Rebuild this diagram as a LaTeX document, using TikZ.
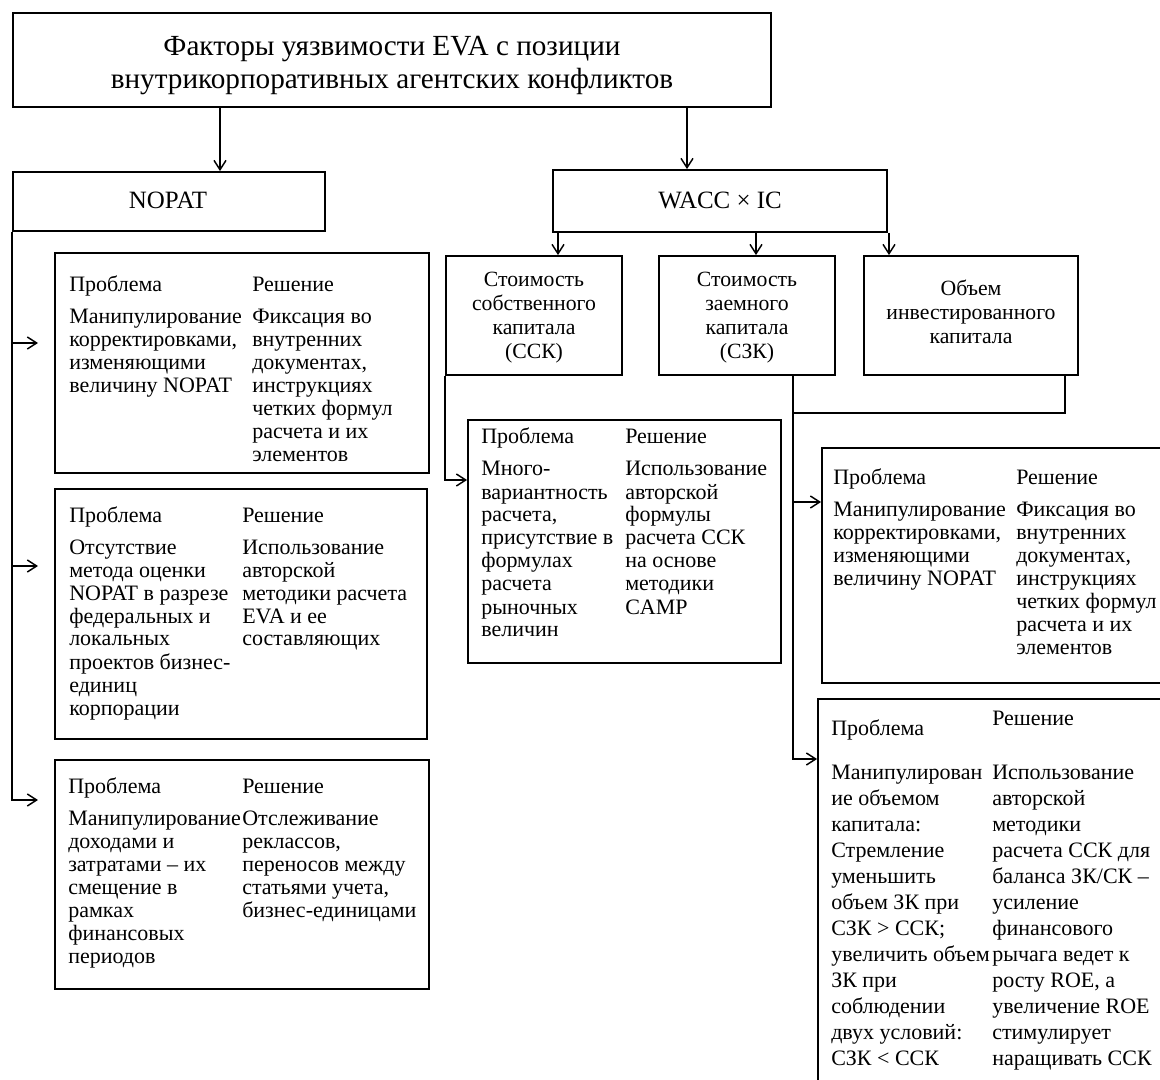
\documentclass[tikz,border=0pt]{standalone}
\usepackage{fontspec}
\setmainfont{Liberation Serif}
\usetikzlibrary{arrows.meta,shadows,fit}
\newcommand{\lcol}[1]{\begin{tabular}[t]{@{}l@{}}#1\end{tabular}}
\newcommand{\ccol}[1]{\begin{tabular}[t]{@{}c@{}}#1\end{tabular}}
\newcommand{\bodyf}{\fontsize{16.5}{17.25}\selectfont}
\newcommand{\widef}{\fontsize{16.5}{19.5}\selectfont}
\newcommand{\smallboxf}{\fontsize{16.3}{18}\selectfont}
\newcommand{\midf}{\fontsize{18.7}{20}\selectfont}
\newcommand{\titlef}{\fontsize{21.9}{24.75}\selectfont}
\begin{document}
\begin{tikzpicture}[x=0.75pt,y=-0.75pt,
  box/.style={draw, line width=1.4pt, fill=white, inner sep=0pt,
    drop shadow={shadow xshift=1.1pt, shadow yshift=-1.1pt, opacity=0.3}},
  conn/.style={line width=1.1pt},
  arr/.style={conn, -{Straight Barb[length=7pt,width=9pt]}},
  txt/.style={inner sep=0pt, anchor=base west, font=\bodyf},
  ctxt/.style={inner sep=0pt, anchor=base, font=\smallboxf},
]
\useasboundingbox (0,0) rectangle (1160,1080);
\clip (0,0) rectangle (1160,1080);
\fill[white] (0,0) rectangle (1160,1080);

% ---------- boxes ----------
\node[box, fit={(13,13)(771,107)}] (title) {};
\node[box, fit={(13,172)(325,231)}] (nopat) {};
\node[box, fit={(553,170)(887,232)}] (wacc) {};
\node[box, fit={(55,253)(429,473)}] (p1) {};
\node[box, fit={(55,489)(427,739)}] (p2) {};
\node[box, fit={(55,760)(429,989)}] (p3) {};
\node[box, fit={(446,256)(622,375)}] (ssk) {};
\node[box, fit={(659,256)(835,375)}] (szk) {};
\node[box, fit={(864,256)(1078,375)}] (ob) {};
\node[box, fit={(468,420)(781,663)}] (p4) {};
\node[box, fit={(822,448)(1185,683)}] (p5) {};
\node[box, fit={(818,699)(1185,1110)}] (p6) {};

% ---------- texts ----------
\node[inner sep=0pt, anchor=base, font=\titlef] (titletext) at (392,56)
  {\ccol{Факторы уязвимости EVA с позиции\\внутрикорпоративных агентских конфликтов}};
\node[inner sep=0pt, anchor=base, font=\midf] (nopattext) at (168,208.5) {NOPAT};
\node[inner sep=0pt, anchor=base, font=\midf] (wacctext) at (720,208.5) {WACC × IC};

\node[ctxt] (ssktext) at (534,287) {\ccol{Стоимость\\собственного\\капитала\\(ССК)}};
\node[ctxt] (szktext) at (747,287) {\ccol{Стоимость\\заемного\\капитала\\(СЗК)}};
\node[ctxt] (obtext) at (971,296) {\ccol{Объем\\инвестированного\\капитала}};

% P1
\node[txt] (p1l) at (69,292) {\lcol{Проблема\\[6.75pt]Манипулирование\\корректировками,\\изменяющими\\величину NOPAT}};
\node[txt] (p1r) at (252,292) {\lcol{Решение\\[6.75pt]Фиксация во\\внутренних\\документах,\\инструкциях\\четких формул\\расчета и их\\элементов}};
% P2
\node[txt] (p2l) at (69,522) {\lcol{Проблема\\[6.75pt]Отсутствие\\метода оценки\\NOPAT в разрезе\\федеральных и\\локальных\\проектов бизнес-\\единиц\\корпорации}};
\node[txt] (p2r) at (242,522) {\lcol{Решение\\[6.75pt]Использование\\авторской\\методики расчета\\EVA и ее\\составляющих}};
% P3
\node[txt] (p3l) at (68,793) {\lcol{Проблема\\[6.75pt]Манипулирование\\доходами и\\затратами – их\\смещение в\\рамках\\финансовых\\периодов}};
\node[txt] (p3r) at (242,793) {\lcol{Решение\\[6.75pt]Отслеживание\\реклассов,\\переносов между\\статьями учета,\\бизнес-единицами}};
% P4
\node[txt] (p4l) at (481,444) {\lcol{Проблема\\[6.75pt]Много-\\вариантность\\расчета,\\присутствие в\\формулах\\расчета\\рыночных\\величин}};
\node[txt] (p4r) at (625,444) {\lcol{Решение\\[6.75pt]Использование\\авторской\\формулы\\расчета ССК\\на основе\\методики\\CAMP}};
% P5
\node[txt] (p5l) at (833,484) {\lcol{Проблема\\[6.75pt]Манипулирование\\корректировками,\\изменяющими\\величину NOPAT}};
\node[txt] (p5r) at (1016,484) {\lcol{Решение\\[6.75pt]Фиксация во\\внутренних\\документах,\\инструкциях\\четких формул\\расчета и их\\элементов}};
% P6
\node[txt] (p6lh) at (831,735) {Проблема};
\node[txt] (p6rh) at (992,725) {Решение};
\node[txt, font=\widef] (p6l) at (831,779) {\lcol{Манипулирован\\ие объемом\\капитала:\\Стремление\\уменьшить\\объем ЗК при\\СЗК > ССК;\\увеличить объем\\ЗК при\\соблюдении\\двух условий:\\СЗК < ССК}};
\node[txt, font=\widef] (p6r) at (992,779) {\lcol{Использование\\авторской\\методики\\расчета ССК для\\баланса ЗК/СК –\\усиление\\финансового\\рычага ведет к\\росту ROE, а\\увеличение ROE\\стимулирует\\наращивать ССК}};

% ---------- connector helper coordinates ----------
\coordinate (xa) at (220,0);
\coordinate (xb) at (687,0);
\coordinate (xc1) at (558,0);
\coordinate (xc2) at (756,0);
\coordinate (xc3) at (889,0);
\coordinate (xz) at (793,0);
\coordinate (xo) at (1065,0);
\coordinate (t1) at (38,343);
\coordinate (t2) at (38,566);
\coordinate (t3) at (38,800);
\coordinate (y4) at (0,480);
\coordinate (y5) at (0,502);
\coordinate (y6) at (0,759);
\coordinate (yb) at (0,413);

% ---------- connectors ----------
\draw[arr] (title.south -| xa) -- (nopat.north -| xa);
\draw[arr] (title.south -| xb) -- (wacc.north -| xb);

\draw[arr] (nopat.south west) |- (t3);
\draw[arr] (nopat.south west |- t1) -- (t1);
\draw[arr] (nopat.south west |- t2) -- (t2);

\draw[arr] (wacc.south -| xc1) -- (ssk.north -| xc1);
\draw[arr] (wacc.south -| xc2) -- (szk.north -| xc2);
\draw[arr] (wacc.south -| xc3) -- (ob.north -| xc3);

\draw[arr] (ssk.south west) |- (p4.west |- y4);

\draw[arr] (szk.south -| xz) |- (p6.west |- y6);
\draw[arr] (xz |- y5) -- (p5.west |- y5);
\draw[conn] (ob.south -| xo) |- (xz |- yb);
\end{tikzpicture}
\end{document}
